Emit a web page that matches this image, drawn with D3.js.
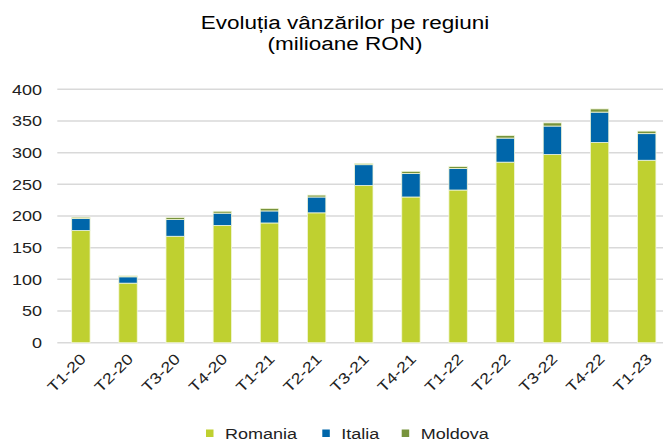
<!DOCTYPE html>
<meta charset="utf-8">
<style>

body {
  margin: 0;
  font-family: "Liberation Sans", Arial, sans-serif;
}

.grid line {
  stroke: #d9d9d9;
  stroke-width: 1.5;
}

.bars rect {
  stroke: #f2f7d9;
  stroke-width: 0.8;
}

</style>
<svg width="663" height="442"></svg>
<script src="https://d3js.org/d3.v7.min.js"></script>
<script>

var quarters = ["T1-20", "T2-20", "T3-20", "T4-20", "T1-21", "T2-21", "T3-21",
                "T4-21", "T1-22", "T2-22", "T3-22", "T4-22", "T1-23"];

var romania = [177, 94, 168, 185, 189, 205, 248, 230, 241, 285, 297, 316, 288];
var italia  = [19, 10, 26.5, 19.5, 19, 25, 33, 37, 34, 38, 45, 48, 42];
var moldova = [2, 1.5, 3, 3, 4, 3, 2, 3.5, 3, 4, 5, 5, 4];

var yTicks = [0, 50, 100, 150, 200, 250, 300, 350, 400];

var seriesNames = ["Romania", "Italia", "Moldova"];
var seriesColors = ["#bfd030", "#0066aa", "#77933c"];

var svg = d3.select("svg"),
    width = +svg.attr("width"),
    height = +svg.attr("height");

// the source picture is stretched sideways a little, so text is too
var stretch = 1.2;

var x = d3.scaleBand()
    .domain(quarters)
    .range([57.3, 670.3])
    .paddingInner(0.61)
    .paddingOuter(0.305);

var y = d3.scaleLinear()
    .domain([0, 400])
    .range([342.7, 89.3]);

var table = quarters.map(function(q, i) {
  return {quarter: q, Romania: romania[i], Italia: italia[i], Moldova: moldova[i]};
});

var stack = d3.stack().keys(seriesNames)(table);

var color = d3.scaleOrdinal()
    .domain(seriesNames)
    .range(seriesColors);

// title
var title = svg.append("g")
    .attr("font-size", 18)
    .attr("fill", "#000");

["Evoluția vânzărilor pe regiuni", "(milioane RON)"].forEach(function(t, i) {
  title.append("text")
      .attr("text-anchor", "middle")
      .attr("transform", "translate(345," + (29 + i * 21) + ") scale(1.25,1)")
      .text(t);
});

// gridlines
svg.append("g")
    .attr("class", "grid")
  .selectAll("line")
  .data(yTicks)
  .enter().append("line")
    .attr("x1", 57.3)
    .attr("x2", width)
    .attr("y1", function(d) { return y(d); })
    .attr("y2", function(d) { return y(d); });

// y labels
svg.append("g")
    .attr("font-size", 15)
    .attr("fill", "#222")
  .selectAll("text")
  .data(yTicks)
  .enter().append("text")
    .attr("text-anchor", "end")
    .attr("dy", "0.36em")
    .attr("transform", function(d) { return "translate(42," + y(d) + ") scale(" + stretch + ",1)"; })
    .text(function(d) { return d; });

// stacked bars
svg.append("g")
    .attr("class", "bars")
  .selectAll("g")
  .data(stack)
  .enter().append("g")
    .attr("fill", function(d) { return color(d.key); })
  .selectAll("rect")
  .data(function(d) { return d; })
  .enter().append("rect")
    .attr("x", function(d) { return x(d.data.quarter); })
    .attr("width", x.bandwidth())
    .attr("y", function(d) { return y(d[1]); })
    .attr("height", function(d) { return y(d[0]) - y(d[1]); });

// x labels, rotated
svg.append("g")
    .attr("font-size", 15)
    .attr("fill", "#222")
  .selectAll("text")
  .data(quarters)
  .enter().append("text")
    .attr("text-anchor", "end")
    .attr("transform", function(d) {
      return "translate(" + (x(d) + x.bandwidth() / 2 + 6) + ",360) rotate(-45) scale(" + stretch + ",1)";
    })
    .text(function(d) { return d; });

// legend
var legendX = [206, 322.3, 401.7];

var legend = svg.append("g")
    .attr("font-size", 15)
    .attr("fill", "#222")
  .selectAll("g")
  .data(seriesNames)
  .enter().append("g")
    .attr("transform", function(d, i) { return "translate(" + legendX[i] + ",0)"; });

legend.append("rect")
    .attr("y", 429.5)
    .attr("width", 7.5)
    .attr("height", 7.5)
    .attr("fill", function(d) { return color(d); });

legend.append("text")
    .attr("transform", "translate(19,438.5) scale(" + stretch + ",1)")
    .text(function(d) { return d; });

</script>
